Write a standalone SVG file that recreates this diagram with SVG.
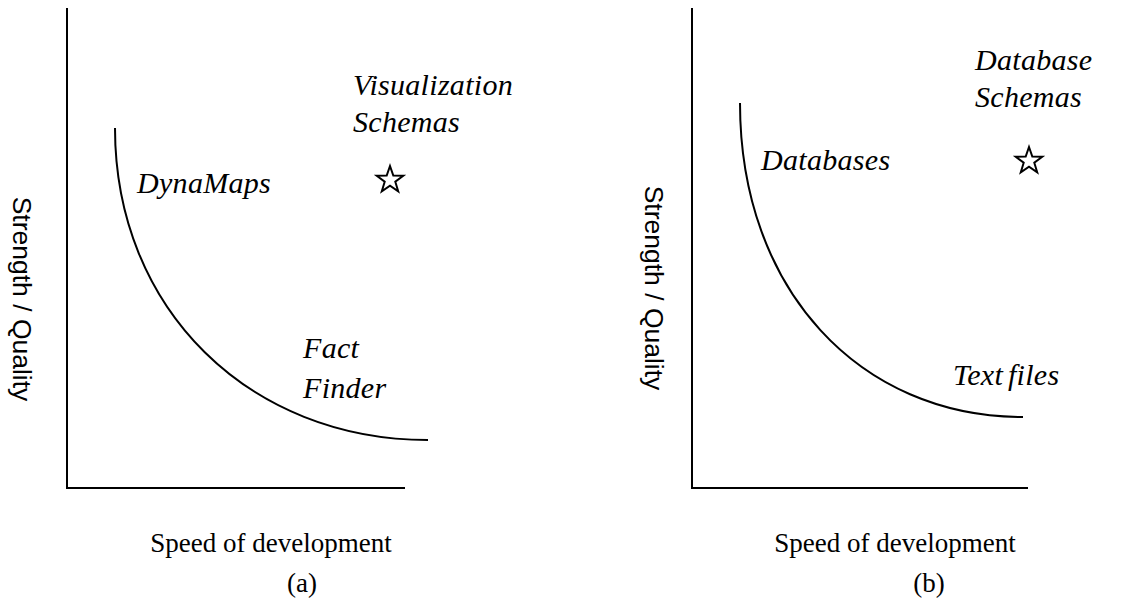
<svg xmlns="http://www.w3.org/2000/svg" width="1137" height="598" viewBox="0 0 1137 598">
<defs>
<style>
.axis{fill:none;stroke:#000;stroke-width:2}
.curve{fill:none;stroke:#000;stroke-width:2}
.star{fill:none;stroke:#000;stroke-width:2;stroke-linejoin:miter}
.lbl{font-family:"Liberation Serif","Times New Roman",serif;font-style:italic;font-size:30px;fill:#000;letter-spacing:0.3px}
.ax{font-family:"Liberation Serif","Times New Roman",serif;font-size:27px;fill:#000}
.yl{font-family:"Liberation Sans",Arial,sans-serif;font-size:26.5px;fill:#000}
</style>
<polygon id="starShape" points="0,-14 3.3,-4.5 13.3,-4.3 5.3,1.7 8.2,11.3 0,5.6 -8.2,11.3 -5.3,1.7 -13.3,-4.3 -3.3,-4.5"/>
</defs>
<rect width="1137" height="598" fill="#fff"/>
<g id="connectors">
<path class="axis" d="M67,8 V488 H405"/>
<path class="axis" d="M692,8 V488 H1028"/>
<path class="curve" d="M115,128 C115,310 250,440 428,440"/>
<path class="curve" d="M740,103 C740,290 860,417 1023,417"/>
</g>
<g id="panel-a">
<g id="vis-schemas"><text class="lbl" x="353" y="95">Visualization</text><text class="lbl" x="353" y="132">Schemas</text><use href="#starShape" class="star" x="390" y="180"/></g>
<g id="dynamaps"><text class="lbl" x="137" y="193">DynaMaps</text></g>
<g id="factfinder"><text class="lbl" x="303" y="358">Fact</text><text class="lbl" x="303" y="398">Finder</text></g>
<g id="ylabel-a"><text class="yl" transform="translate(13,299) rotate(90)" text-anchor="middle">Strength / Quality</text></g>
<g id="xlabel-a"><text class="ax" x="271" y="552" text-anchor="middle">Speed of development</text><text class="ax" x="302" y="592" text-anchor="middle">(a)</text></g>
</g>
<g id="panel-b">
<g id="db-schemas"><text class="lbl" x="975" y="70">Database</text><text class="lbl" x="975" y="107">Schemas</text><use href="#starShape" class="star" x="1029" y="161"/></g>
<g id="databases"><text class="lbl" x="761" y="170">Databases</text></g>
<g id="textfiles"><text class="lbl" x="953" y="385" word-spacing="-3">Text files</text></g>
<g id="ylabel-b"><text class="yl" transform="translate(645,288) rotate(90)" text-anchor="middle">Strength / Quality</text></g>
<g id="xlabel-b"><text class="ax" x="895" y="552" text-anchor="middle">Speed of development</text><text class="ax" x="929" y="592" text-anchor="middle">(b)</text></g>
</g>
</svg>
